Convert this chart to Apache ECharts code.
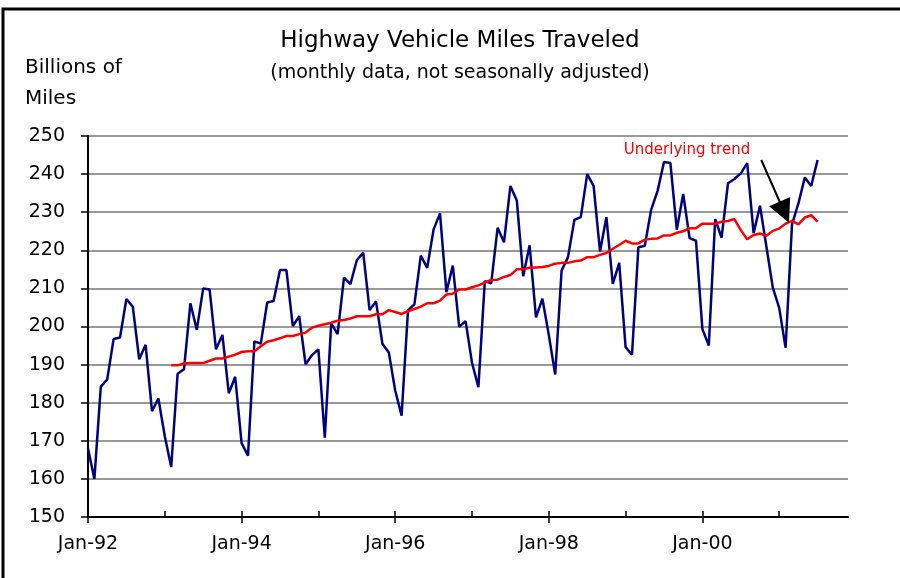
<!DOCTYPE html>
<html>
<head>
<meta charset="utf-8">
<script src="https://cdn.jsdelivr.net/npm/echarts@6/dist/echarts.min.js"></script>
<style>
  html, body { margin: 0; padding: 0; background: #fff; }
  #chart { width: 900px; height: 578px; }
</style>
</head>
<body>
<div id="chart"></div>
<script>
// monthly VMT, billions of miles, Jan-92 .. Jul-01 (index = months since Jan-92)
const vmt = [
  168, 160, 184.2, 186.1, 196.7, 197.1, 207.2, 205.2, 191.4, 195.2, 177.8, 181.1,
  171.2, 163.1, 187.6, 188.8, 206.1, 199.1, 210, 209.7, 194.0, 197.8, 182.5, 186.8,
  169.4, 166.1, 196.1, 195.5, 206.3, 206.7, 214.8, 214.8, 200.1, 202.7, 190.1, 192.5,
  194.0, 170.8, 200.8, 198.0, 212.8, 211.1, 217.4, 219.4, 204.3, 206.6, 195.5, 193.2,
  183.2, 176.6, 204.3, 205.8, 218.6, 215.4, 225.5, 229.7, 209, 216, 199.9, 201.4,
  190.5, 184.1, 211.9, 211.3, 225.9, 222.1, 236.9, 233.1, 213.2, 221.3, 202.4, 207.3,
  197.8, 187.4, 214.7, 218.2, 228, 228.7, 240, 236.9, 219.7, 228.7, 211.2, 216.7,
  194.6, 192.6, 220.8, 221.2, 230.7, 235.6, 243.2, 242.9, 225.4, 234.8, 223.2, 222.5,
  199.3, 195, 228.2, 223.3, 237.6, 238.7, 240.2, 242.9, 224.5, 231.7, 221, 210.2,
  204.9, 194.4, 226.8, 232.3, 239.1, 236.9, 243.7
]

// underlying trend, starts at Feb-93
const trendStart = 13
const trend = [
  189.8, 189.8, 190.3, 190.4, 190.4, 190.4, 191, 191.6, 191.6, 192.1, 192.6,
  193.3, 193.5, 193.5, 194.8, 196, 196.4, 196.9, 197.5, 197.5, 198, 198.4, 199.7,
  200.2, 200.6, 201, 201.5, 201.7, 202.1, 202.7, 202.7, 202.7, 203.2, 203.2, 204.3,
  203.8, 203.3, 204, 204.6, 205.2, 206.1, 206.1, 206.8, 208.4, 208.6, 209.7, 209.7,
  210.3, 210.8, 211.5, 212.2, 212.3, 213, 213.5, 215, 215, 215.4, 215.5, 215.6,
  215.9, 216.5, 216.7, 216.7, 217.1, 217.3, 218.2, 218.2, 218.8, 219.3, 220.4, 221.4,
  222.5, 221.8, 221.8, 222.8, 223, 223.1, 223.9, 223.9, 224.6, 225, 225.8, 225.8,
  227, 227, 227, 227.5, 227.7, 228.2, 225.3, 222.9, 224, 224.4, 223.8, 225.1,
  225.7, 227, 227.7, 226.8, 228.6, 229.2, 227.5
]

const yearTicks = [0, 12, 24, 36, 48, 60, 72, 84, 96, 108]
const labelMonths = [0, 24, 48, 72, 96]
const xLabels = ['Jan-92', 'Jan-94', 'Jan-96', 'Jan-98', 'Jan-00']

// arrow pointing at the trend line (month index, value)
const arrowFrom = [105.2, 243.7]
const arrowTo = [108.8, 230]

const FONT = 'DejaVu Sans'

const chart = echarts.init(document.getElementById('chart'))

chart.setOption({
  animation: false,
  backgroundColor: '#fff',
  grid: {
    left: 88,
    right: 52,
    top: 136,
    bottom: 61
  },
  graphic: [
    {
      type: 'polyline',
      shape: { points: [[3, 600], [3, 9], [900, 9]] },
      style: { stroke: '#000', lineWidth: 3, fill: null }
    },
    {
      type: 'text',
      style: {
        x: 460, y: 41, text: 'Highway Vehicle Miles Traveled',
        textAlign: 'center', textVerticalAlign: 'middle',
        font: '23px "DejaVu Sans"', fill: '#000'
      }
    },
    {
      type: 'text',
      style: {
        x: 460, y: 73, text: '(monthly data, not seasonally adjusted)',
        textAlign: 'center', textVerticalAlign: 'middle',
        font: '19px "DejaVu Sans"', fill: '#000'
      }
    },
    {
      type: 'text',
      style: {
        x: 25, y: 68, text: 'Billions of',
        textAlign: 'left', textVerticalAlign: 'middle',
        font: '20px "DejaVu Sans"', fill: '#000'
      }
    },
    {
      type: 'text',
      style: {
        x: 25, y: 99, text: 'Miles',
        textAlign: 'left', textVerticalAlign: 'middle',
        font: '20px "DejaVu Sans"', fill: '#000'
      }
    },
    {
      type: 'text',
      style: {
        x: 687, y: 150, text: 'Underlying trend',
        textAlign: 'center', textVerticalAlign: 'middle',
        font: '15px "DejaVu Sans"', fill: '#ff0000'
      }
    }
  ],
  xAxis: [
    {
      type: 'value',
      min: 0,
      max: 118.75,
      axisLine: { lineStyle: { color: '#000', width: 2 } },
      axisTick: {
        inside: true,
        length: 6,
        customValues: yearTicks,
        lineStyle: { color: '#000', width: 1.5 }
      },
      axisLabel: {
        customValues: labelMonths,
        formatter: function (v) {
          return xLabels[labelMonths.indexOf(v)] || ''
        },
        margin: 18,
        color: '#000',
        fontSize: 19,
        fontFamily: FONT
      },
      splitLine: { show: false }
    },
    {
      // outside tick marks on the labelled years
      type: 'value',
      min: 0,
      max: 118.75,
      position: 'bottom',
      axisLine: { show: false },
      axisTick: {
        inside: false,
        length: 6,
        customValues: labelMonths,
        lineStyle: { color: '#000', width: 1.5 }
      },
      axisLabel: { show: false },
      splitLine: { show: false }
    }
  ],
  yAxis: {
    type: 'value',
    min: 150,
    max: 250,
    interval: 10,
    axisLine: { show: true, lineStyle: { color: '#000', width: 2 } },
    axisTick: { show: true, length: 7, lineStyle: { color: '#000', width: 1.5 } },
    axisLabel: {
      margin: 23,
      color: '#000',
      fontSize: 19,
      fontFamily: FONT
    },
    splitLine: { lineStyle: { color: '#999', width: 2 } }
  },
  series: [
    {
      name: 'VMT',
      type: 'line',
      symbol: 'none',
      data: vmt.map(function (v, i) { return [i, v] }),
      lineStyle: { color: '#000080', width: 2.5 },
      silent: true
    },
    {
      name: 'Underlying trend',
      type: 'line',
      symbol: 'none',
      data: trend.map(function (v, i) { return [i + trendStart, v] }),
      lineStyle: { color: '#ff0000', width: 2.5 },
      silent: true,
      markLine: {
        silent: true,
        symbol: ['none', 'triangle'],
        symbolSize: 23,
        label: { show: false },
        lineStyle: { color: '#000', width: 2, type: 'solid' },
        itemStyle: { color: '#000' },
        data: [[{ coord: arrowFrom }, { coord: arrowTo }]]
      }
    }
  ]
})
</script>
</body>
</html>
